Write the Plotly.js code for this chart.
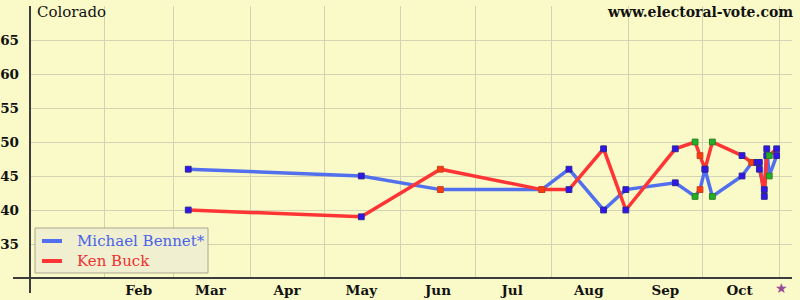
<!DOCTYPE html>
<html>
<head>
<meta charset="utf-8">
<script src="https://cdn.plot.ly/plotly-3.0.1.min.js"></script>
<style>html,body{margin:0;padding:0;background:#fafac8;}</style>
</head>
<body>
<div id="chart" style="width:800px;height:300px;"></div>
<script>
// ---- data ----
const stateName = 'Colorado';
const siteName = 'www.electoral-vote.com';
const candidates = ['Michael Bennet*', 'Ken Buck'];
const pollDates = ['2010-03-07','2010-05-16','2010-06-17','2010-07-28','2010-08-08','2010-08-22','2010-08-31',
                   '2010-09-20','2010-09-28','2010-09-30','2010-10-02','2010-10-05','2010-10-17','2010-10-21',
                   '2010-10-23','2010-10-24','2010-10-26','2010-10-27','2010-10-28','2010-10-31'];
const bennet = [46,45,43,43,46,40,43,44,42,43,46,42,45,47,47,46,43,49,45,48];
const buck   = [40,39,46,43,43,49,40,49,50,48,46,50,48,47,47,47,42,48,48,49];
const pollKind = ['b','b','o','o','b','b','b','b','g','o','b','g','b','o','b','b','b','b','g','b'];
const monthLabels = ['Feb','Mar','Apr','May','Jun','Jul','Aug','Sep','Oct'];
const monthMids = ['2010-02-15','2010-03-16','2010-04-16','2010-05-16','2010-06-16','2010-07-16','2010-08-16','2010-09-16','2010-10-16'];
const monthStarts = ['2010-02-01','2010-03-01','2010-04-01','2010-05-01','2010-06-01','2010-07-01','2010-08-01','2010-09-01','2010-10-01','2010-11-01'];
const yTicks = [35,40,45,50,55,60,65];
const electionDay = '2010-11-02';

// ---- styles ----
const lineColors = ['#5270ee', '#ff3535'];
const textColors = ['#4a62e8', '#ee3030'];
const kindFill = {b:'#3414ee', o:'#ff3a10', g:'#22b022'};
const kindEdge = {b:'#2a2a90', o:'#c84020', g:'#2a802a'};
const serif = 'DejaVu Serif';
const gridColor = '#d2d2b4';

const series = [bennet, buck];
const traces = [];
series.forEach((vals, i) => {
  traces.push({
    x: pollDates, y: vals, type: 'scatter', mode: 'lines', showlegend: false,
    name: candidates[i],
    line: {color: lineColors[i], width: 3.5},
    hoverinfo: 'skip'
  });
});
series.forEach((vals, i) => {
  traces.push({
    x: pollDates, y: vals, type: 'scatter', mode: 'markers', showlegend: false,
    marker: {symbol: 'square', size: 5.8,
             color: pollKind.map(k => kindFill[k]),
             line: {color: pollKind.map(k => kindEdge[k]), width: 1}},
    hoverinfo: 'skip'
  });
});

// hand-drawn legend box (paper coordinates)
const legendShapes = [
  {type: 'rect', xref: 'paper', yref: 'paper', x0: 0.0066, x1: 0.2336, y0: 0.0184, y1: 0.1838,
   fillcolor: '#f0f0d0', line: {color: '#a8a890', width: 1}, layer: 'above'}
];
const legendRowsY = [0.136, 0.0625];
const legendAnn = [];
candidates.forEach((name, i) => {
  legendShapes.push({type: 'line', xref: 'paper', yref: 'paper', x0: 0.0157, x1: 0.042,
    y0: legendRowsY[i], y1: legendRowsY[i], line: {color: lineColors[i], width: 4}, layer: 'above'});
  legendAnn.push({text: name, xref: 'paper', yref: 'paper', x: 0.0591, y: legendRowsY[i],
    xanchor: 'left', yanchor: 'middle', showarrow: false,
    font: {family: serif, size: 15, color: textColors[i]}});
});

const layout = {
  width: 800, height: 300,
  margin: {l: 30, r: 8, t: 6, b: 22},
  paper_bgcolor: '#fafac8', plot_bgcolor: '#fafac8',
  showlegend: false,
  xaxis: {
    type: 'date', range: ['2010-01-02', '2010-11-06 05:00'],
    tickmode: 'array', tickvals: monthMids, ticktext: monthLabels,
    showgrid: false, ticks: '', zeroline: false, showline: false,
    ticklabelstandoff: 2,
    tickfont: {family: serif, size: 13.5, weight: 'bold', color: '#111'},
    minor: {tickmode: 'array', tickvals: monthStarts, showgrid: true, gridcolor: gridColor, gridwidth: 1, ticks: ''}
  },
  yaxis: {
    range: [30, 70], tickmode: 'array', tickvals: yTicks,
    showgrid: true, gridcolor: gridColor, gridwidth: 1, ticks: '', zeroline: false, showline: false,
    ticklabelstandoff: 10,
    tickfont: {family: serif, size: 13.5, weight: 'bold', color: '#111'}
  },
  shapes: [
    {type: 'line', xref: 'paper', yref: 'paper', x0: -0.0223, x1: 1, y0: 0, y1: 0, line: {color: '#3c3c3c', width: 2}},
    {type: 'line', xref: 'paper', yref: 'paper', x0: 0, x1: 0, y0: -0.055, y1: 1, line: {color: '#3c3c3c', width: 2}}
  ].concat(legendShapes),
  annotations: [
    {text: stateName, xref: 'paper', yref: 'paper', x: 0, y: 1, xanchor: 'left', yanchor: 'middle',
     xshift: 5, yshift: -6, showarrow: false, font: {family: serif, size: 15, color: '#111'}},
    {text: siteName, xref: 'paper', yref: 'paper', x: 1, y: 1, xanchor: 'right', yanchor: 'middle',
     xshift: 3, yshift: -6, showarrow: false, font: {family: serif, size: 14, weight: 'bold', color: '#111'}},
    {text: '★', xref: 'x', yref: 'paper', x: electionDay, y: 0, xanchor: 'center', yanchor: 'middle',
     yshift: -10, showarrow: false, font: {family: 'DejaVu Sans', size: 14, color: '#9a4a9a'}}
  ].concat(legendAnn)
};

Plotly.newPlot('chart', traces, layout, {displayModeBar: false, staticPlot: true});
</script>
</body>
</html>
